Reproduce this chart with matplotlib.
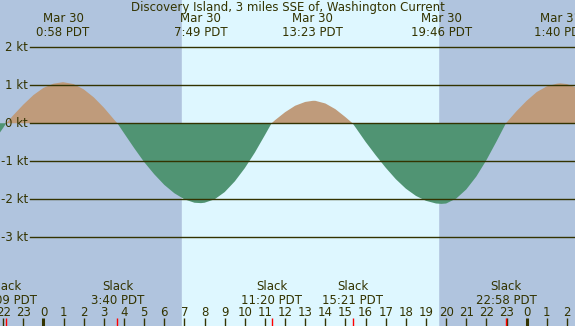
import numpy as np
import matplotlib
matplotlib.use("Agg")
import matplotlib.pyplot as plt

# hours from midnight Mar 30 (negative = Mar 29, >24 = Mar 31), current in knots
hours = [-2.5, -2.0, -1.85, -1.5, -1.0, -0.5, 0.0, 0.5, 0.97, 1.5, 2.0, 2.5, 3.0,
         3.5, 3.67, 4.0, 4.5, 5.0, 5.5, 6.0, 6.5, 7.0, 7.5, 7.82, 8.0, 8.5, 9.0,
         9.5, 10.0, 10.5, 11.0, 11.33, 11.5, 12.0, 12.5, 13.0, 13.38, 13.5, 14.0,
         14.5, 15.0, 15.35, 15.5, 16.0, 16.5, 17.0, 17.5, 18.0, 18.5, 19.0, 19.5,
         19.77, 20.0, 20.5, 21.0, 21.5, 22.0, 22.5, 22.97, 23.5, 24.0, 24.5, 25.0,
         25.5, 25.67, 26.0, 26.5]
knots = [-0.50, -0.12, 0.0, 0.21, 0.49, 0.74, 0.93, 1.04, 1.08, 1.03, 0.89, 0.68, 0.41,
         0.10, 0.0, -0.26, -0.65, -1.02, -1.34, -1.62, -1.84, -2.00, -2.09, -2.10, -2.09, -2.00, -1.81,
         -1.53, -1.18, -0.77, -0.31, 0.0, 0.08, 0.29, 0.46, 0.56, 0.59, 0.59, 0.52,
         0.37, 0.16, 0.0, -0.11, -0.49, -0.84, -1.17, -1.47, -1.72, -1.91, -2.04, -2.11,
         -2.12, -2.11, -1.98, -1.74, -1.40, -0.97, -0.48, 0.0, 0.32, 0.59, 0.82, 0.97,
         1.04, 1.05, 1.03, 0.93]

max_times = [0.97, 7.82, 13.38, 19.77, 25.67]
max_labels = ["Mar 30\n0:58 PDT", "Mar 30\n7:49 PDT", "Mar 30\n13:23 PDT",
              "Mar 30\n19:46 PDT", "Mar 31\n1:40 PDT"]
slack_times = [-1.85, 3.67, 11.33, 15.35, 22.97]
slack_labels = ["Slack\n22:09 PDT", "Slack\n3:40 PDT", "Slack\n11:20 PDT",
                "Slack\n15:21 PDT", "Slack\n22:58 PDT"]
sunrise, sunset = 6.88, 19.6
kt_levels = [2, 1, 0, -1, -2, -3]
hour_ticks = list(range(-2, 27))

night = "#b0c4de"
day = "#def7ff"
flood = "#bf9b7b"
ebb = "#509473"
ink = "#333300"
fs = 8.5

fig = plt.figure(figsize=(5.75, 3.26), dpi=100)
ax = fig.add_axes([0, 0, 1, 1])
ax.set_xlim(-2.16, 26.40)
ax.set_ylim(-5.33, 3.24)
ax.axis("off")

ax.axvspan(-3, 30, color=night, zorder=0)
ax.axvspan(sunrise, sunset, color=day, zorder=0)

t = np.array(hours)
v = np.array(knots)
ax.fill_between(t, v, 0, where=v >= 0, interpolate=True, color=flood, lw=0, zorder=1)
ax.fill_between(t, v, 0, where=v <= 0, interpolate=True, color=ebb, lw=0, zorder=1)

ytr = ax.get_yaxis_transform()
xtr = ax.get_xaxis_transform()
for k in kt_levels:
    ax.axhline(k, xmin=30 / 575, xmax=1, color=ink, lw=1.0, zorder=2)
    ax.text(28 / 575, k, f"{k} kt", transform=ytr, ha="right", va="center",
            fontsize=fs, color=ink)

ax.text(0.5, 1 - 8 / 326, "Discovery Island, 3 miles SSE of, Washington Current",
        transform=ax.transAxes, ha="center", va="center", fontsize=fs, color=ink)

for x, lab in zip(max_times, max_labels):
    ax.text(x, 1 - 26 / 326, lab, transform=xtr, ha="center", va="center",
            fontsize=fs, color=ink, linespacing=1.1)

for x, lab in zip(slack_times, slack_labels):
    ax.text(x, 1 - 293 / 326, lab, transform=xtr, ha="center", va="center",
            fontsize=fs, color=ink, linespacing=1.1)

for h in hour_ticks:
    ax.text(h, 1 - 312 / 326, str(h % 24), transform=xtr, ha="center", va="center",
            fontsize=fs, color=ink)
    ax.plot([h, h], [0, 8 / 326], transform=xtr, color=ink,
            lw=2.2 if h % 24 == 0 else 1.0, solid_capstyle="butt", zorder=3)

for x in slack_times:
    ax.plot([x, x], [0, 8 / 326], transform=xtr, color="red", lw=1.0,
            solid_capstyle="butt", zorder=3)

fig.savefig("out.png", dpi=100)
